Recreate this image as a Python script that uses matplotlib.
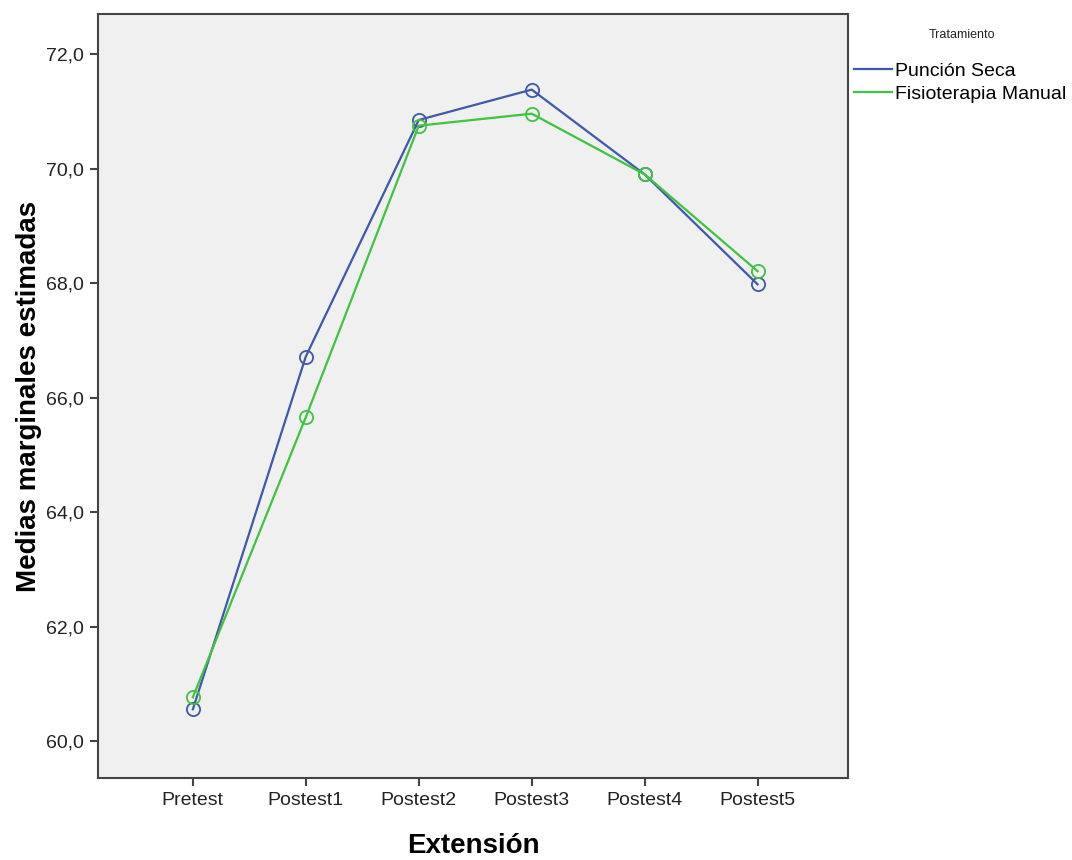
import matplotlib.pyplot as plt
from matplotlib.lines import Line2D

plt.rcParams['font.family'] = ['Liberation Sans', 'DejaVu Sans']

# Data
momentos = ['Pretest', 'Postest1', 'Postest2', 'Postest3', 'Postest4', 'Postest5']
puncion_seca = [60.56, 66.72, 70.85, 71.38, 69.90, 67.98]
fisio_manual = [60.77, 65.66, 70.75, 70.96, 69.90, 68.21]
y_ticks = [60, 62, 64, 66, 68, 70, 72]

azul = '#3e58ac'
verde = '#3ec43e'

fig = plt.figure(figsize=(10.72, 8.6), dpi=100)
ax = fig.add_axes([0.0914, 0.0953, 0.6996, 0.8884])
ax.set_facecolor('#f0f0f0')

x = list(range(len(momentos)))
ax.plot(x, puncion_seca, color=azul, lw=1.6, marker='o', ms=9.5,
        mfc='none', mec=azul, mew=1.3)
ax.plot(x, fisio_manual, color=verde, lw=1.6, marker='o', ms=9.5,
        mfc='none', mec=verde, mew=1.3)

ax.set_xlim(-0.84, 5.8)
ax.set_ylim(59.36, 72.70)
ax.set_xticks(x)
ax.set_xticklabels(momentos)
ax.set_yticks(y_ticks)
ax.set_yticklabels([f'{v:.1f}'.replace('.', ',') for v in y_ticks])

for s in ax.spines.values():
    s.set_color('#444444')
    s.set_linewidth(1.5)
ax.tick_params(direction='out', length=6, width=1.5, color='#444444',
               labelsize=14, labelcolor='#222222', pad=4)

ax.set_xlabel('Extensión', fontsize=20, fontweight='bold', labelpad=17)
ax.set_ylabel('Medias marginales estimadas', fontsize=20, fontweight='bold', labelpad=3)

handles = [Line2D([], [], color=azul, lw=1.6), Line2D([], [], color=verde, lw=1.6)]
fig.legend(handles, ['Punción Seca', 'Fisioterapia Manual'], loc='upper left',
           bbox_to_anchor=(0.797, 0.928), frameon=False, fontsize=14,
           handlelength=1.95, handletextpad=0.15, labelspacing=0.28,
           borderaxespad=0, borderpad=0)
fig.text(0.897, 0.959, 'Tratamiento', fontsize=9, ha='center', va='center',
         color='#222222')

fig.savefig('out.png', dpi=100)
